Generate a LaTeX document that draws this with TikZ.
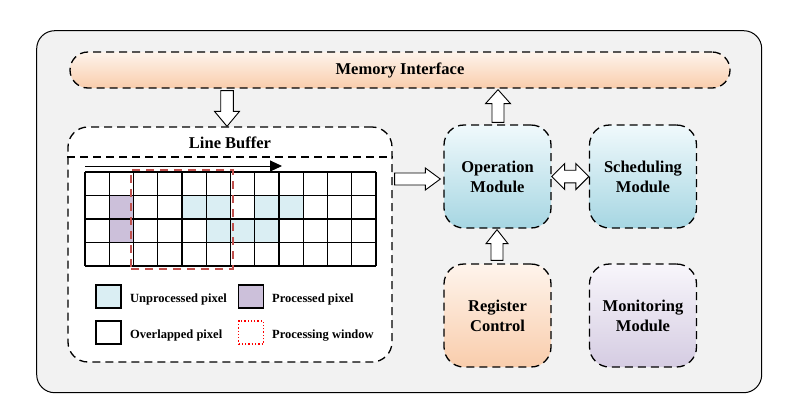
\documentclass[tikz,border=0pt]{standalone}
\usepackage{fontspec}
\setmainfont{Liberation Serif}
\usetikzlibrary{calc,arrows.meta}
\definecolor{bggray}{HTML}{F2F2F2}
\definecolor{memtop}{HTML}{FEF4EC}
\definecolor{membot}{HTML}{F9CDAC}
\definecolor{optop}{HTML}{F0F9FC}
\definecolor{opbot}{HTML}{A6D6E2}
\definecolor{montop}{HTML}{F8F6FB}
\definecolor{monbot}{HTML}{D5CCE2}
\definecolor{unproc}{HTML}{DAEEF3}
\definecolor{procc}{HTML}{CCC0DA}
\definecolor{winred}{HTML}{C0504D}
\newcommand{\blockarrow}[5]{%
  \path let \p1=(#1), \p2=(#2) in \pgfextra{%
    \pgfmathsetmacro\baLen{veclen(\x2-\x1,\y2-\y1)}%
    \pgfmathsetmacro\baAng{atan2(\y2-\y1,\x2-\x1)}%
    \xdef\baLenG{\baLen}\xdef\baAngG{\baAng}};
  \draw[blockarr, shift={(#1)}, rotate=\baAngG]
    (0pt,-#3pt) -- ({\baLenG pt-#5pt},-#3pt) -- ({\baLenG pt-#5pt},-#4pt)
    -- ({\baLenG pt},0pt) -- ({\baLenG pt-#5pt},#4pt) -- ({\baLenG pt-#5pt},#3pt)
    -- (0pt,#3pt) -- cycle;
}
\newcommand{\dblockarrow}[5]{%
  \path let \p1=(#1), \p2=(#2) in \pgfextra{%
    \pgfmathsetmacro\baLen{veclen(\x2-\x1,\y2-\y1)}%
    \pgfmathsetmacro\baAng{atan2(\y2-\y1,\x2-\x1)}%
    \xdef\baLenG{\baLen}\xdef\baAngG{\baAng}};
  \draw[blockarr, shift={(#1)}, rotate=\baAngG]
    (0pt,0pt) -- (#5pt,-#4pt) -- (#5pt,-#3pt) -- ({\baLenG pt-#5pt},-#3pt) -- ({\baLenG pt-#5pt},-#4pt)
    -- ({\baLenG pt},0pt) -- ({\baLenG pt-#5pt},#4pt) -- ({\baLenG pt-#5pt},#3pt)
    -- (#5pt,#3pt) -- (#5pt,#4pt) -- cycle;
}
\tikzset{
  dashbox/.style={draw=black, line width=1.3pt, dash pattern=on 8pt off 5pt},
  titlefont/.style={font=\fontsize{16.5}{20}\selectfont\bfseries},
  module/.style={dashbox, rounded corners=20pt, minimum width=107pt, minimum height=103pt,
    align=center, titlefont, inner sep=0pt},
  blockarr/.style={draw=black, fill=white, line width=0.9pt, line join=miter},
  cellline/.style={line width=1.4pt},
  legtext/.style={font=\fontsize{12.5}{15}\selectfont\bfseries, anchor=base west, inner sep=0pt},
  legbox/.style={draw, line width=1.3pt, minimum width=25pt, minimum height=23pt, inner sep=0pt},
}
\begin{document}
\begin{tikzpicture}[x=1pt,y=-1pt]
\useasboundingbox (0,0) rectangle (794,418);
\node[draw, line width=1pt, fill=bggray, rounded corners=18pt, minimum width=725pt, minimum height=362pt] (outer) at (399.2,211.7) {};
\node[dashbox, rounded corners=18pt, top color=memtop, bottom color=membot, minimum width=660pt, minimum height=36pt, titlefont] (mem) at (400,70) {Memory Interface};
% line buffer
\node[dashbox, fill=white, rounded corners=20pt, minimum width=324pt, minimum height=235pt] (lb) at (230,244.5) {};
\node[titlefont] (lbtitle) at (230,143) {Line Buffer};
\coordinate (sep) at (0,157);
\draw[dashbox] (lb.west |- sep) -- (lb.east |- sep);
% grid cells
\foreach \c/\r in {1/1,1/2}
  \fill[procc] (85+\c*24.25,172+\r*23.5) rectangle ++(24.25,23.5);
\foreach \c/\r in {4/1,5/1,7/1,8/1,5/2,6/2,7/2}
  \fill[unproc] (85+\c*24.25,172+\r*23.5) rectangle ++(24.25,23.5);
\foreach \i in {0,...,12}
  \draw[cellline] (85+\i*24.25,172) -- (85+\i*24.25,266);
\foreach \j in {0,...,4}
  \draw[cellline] (85,172+\j*23.5) -- (376,172+\j*23.5);
\node[draw=winred, line width=1.6pt, dash pattern=on 8pt off 6pt, minimum width=102pt, minimum height=99pt, inner sep=0pt] (win) at (182,219.5) {};
\coordinate (dirs) at (85,166);
\coordinate (dire) at (282,166);
\draw[line width=1pt, -{Triangle[length=12pt,width=11pt]}] (dirs) -- (dire);
% legend
\node[legbox, fill=unproc] (lg1) at (108.5,296.5) {};
\node[legtext] (lt1) at (130,302) {Unprocessed pixel};
\node[legbox, fill=procc] (lg2) at (251,296.5) {};
\node[legtext] (lt2) at (272,302) {Processed pixel};
\node[legbox, fill=white] (lg3) at (108.5,332.5) {};
\node[legtext] (lt3) at (130,338) {Overlapped pixel};
\node[legbox, draw=red, dotted, line width=1.2pt] (lg4) at (251,332.5) {};
\node[legtext] (lt4) at (272,338) {Processing window};
% modules
\node[module, top color=optop, bottom color=opbot] (op) at (497.5,176.5) {Operation\\Module};
\node[module, top color=optop, bottom color=opbot] (sch) at (643,176.5) {Scheduling\\Module};
\node[module, top color=memtop, bottom color=membot] (reg) at (497.5,315.5) {Register\\Control};
\node[module, top color=montop, bottom color=monbot] (mon) at (643,315.5) {Monitoring\\Module};
% arrows
\coordinate (ax1) at (227,0);
\coordinate (ax2) at (498,0);
\coordinate (ax4) at (497,0);
\coordinate (ay3) at (0,179);
\coordinate (ay5) at (0,176.5);
\blockarrow{$(mem.south -| ax1)+(0,2)$}{lb.north -| ax1}{6.3}{12.5}{15}
\blockarrow{$(op.north -| ax2)+(0,-2)$}{$(mem.south -| ax2)+(0,1)$}{6}{12.5}{14}
\blockarrow{$(lb.east |- ay3)+(2,0)$}{$(op.west |- ay3)+(-3,0)$}{6}{11}{15}
\blockarrow{$(reg.north -| ax4)+(0,-3)$}{$(op.south -| ax4)+(0,1)$}{6}{11}{14}
\dblockarrow{op.east |- ay5}{sch.west |- ay5}{6.3}{13}{13}
\end{tikzpicture}
\end{document}
